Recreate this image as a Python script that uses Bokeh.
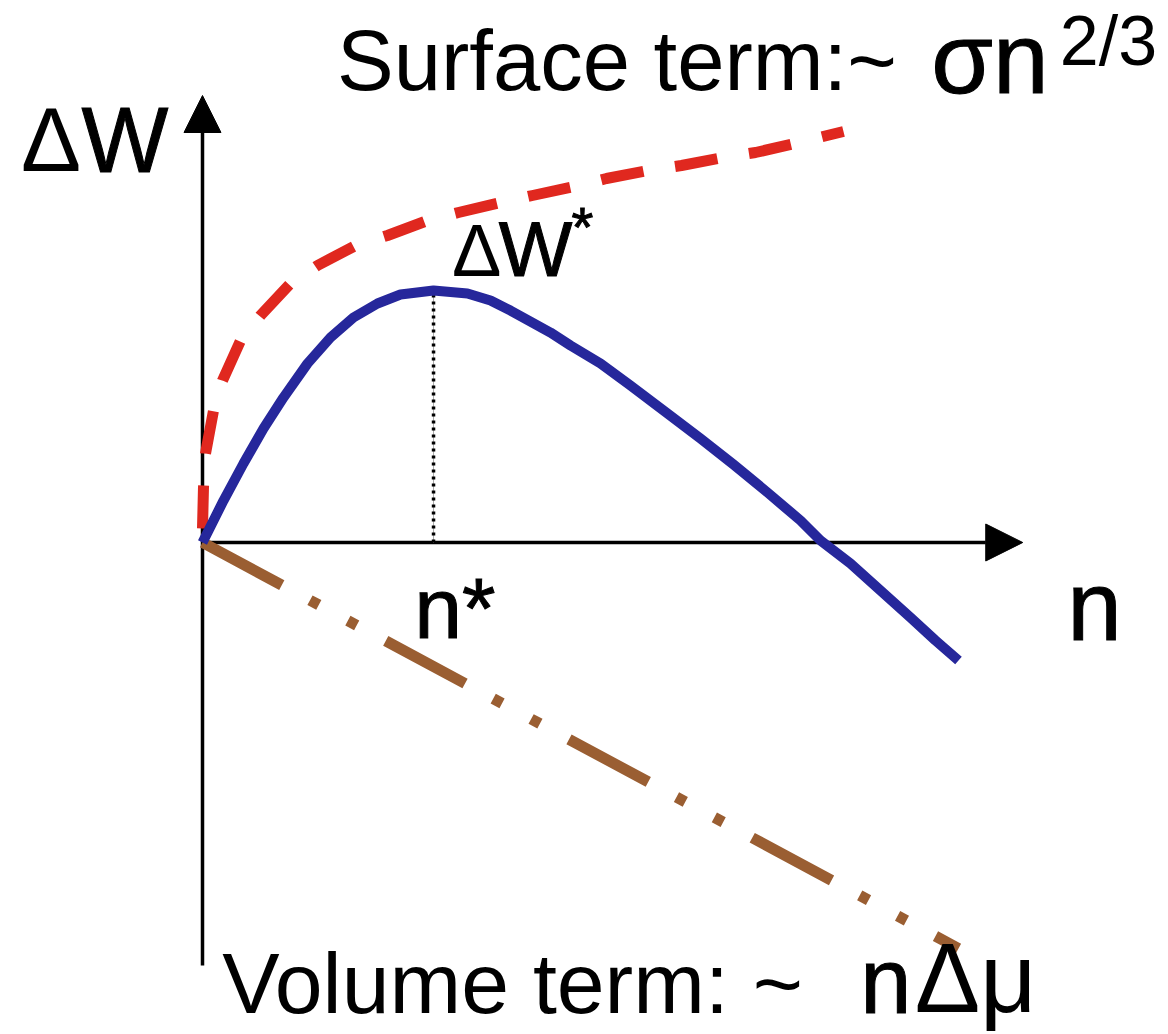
from bokeh.plotting import figure
from bokeh.models import Range1d, Arrow, NormalHead, Label
from bokeh.embed import file_html
from bokeh.resources import INLINE

# Cluster size n (arbitrary units) and free-energy terms dW (arbitrary units)
total_n = [0.0, 0.278, 0.542, 0.807, 1.071, 1.389, 1.693, 1.997, 2.315, 2.619,
           3.056, 3.505, 3.810, 4.074, 4.339, 4.603, 4.868, 5.265, 5.661, 6.151,
           6.587, 7.024, 7.474, 7.910, 8.175, 8.571, 8.968, 9.365, 9.696, 10.0]
total_w = [0.0, 1.034, 1.946, 2.808, 3.571, 4.409, 5.049, 5.542, 5.887, 6.108,
           6.207, 6.133, 5.961, 5.714, 5.443, 5.172, 4.852, 4.409, 3.867, 3.177,
           2.562, 1.921, 1.232, 0.542, 0.049, -0.517, -1.182, -1.847, -2.414, -2.906]

surface_n = [0.0, 0.013, 0.040, 0.146, 0.265, 0.503, 0.767, 1.164, 1.521, 2.024,
             2.447, 2.976, 3.386, 3.942, 4.365, 4.921, 5.344, 5.899, 6.336, 6.892,
             7.315, 7.884, 8.479]
surface_w = [0.345, 1.355, 2.192, 3.251, 3.990, 4.975, 5.591, 6.379, 6.823, 7.315,
             7.562, 7.931, 8.128, 8.374, 8.547, 8.768, 8.966, 9.163, 9.286, 9.483,
             9.606, 9.852, 10.123]

volume_n = [0.0, 10.0]
volume_w = [0.0, -10.0]

# axis extents
n_axis_end = 10.85
w_axis_top = 11.01
w_axis_bottom = -10.42

FONT = "Liberation Sans"
W_UNIT_PX = 40.6  # screen pixels per dW unit, used to shift text from baseline to bottom

p = figure(width=1168, height=1034, output_backend="svg", toolbar_location=None,
           x_axis_type=None, y_axis_type=None, min_border=0,
           x_range=Range1d(-2.672, 12.778), y_range=Range1d(-12.118, 13.350))
p.grid.visible = False
p.outline_line_color = None
p.background_fill_color = "white"
p.border_fill_color = "white"

# axes with arrow heads
for xs, ys, xe, ye in [(0, w_axis_bottom, 0, w_axis_top), (0, 0, n_axis_end, 0)]:
    p.add_layout(Arrow(end=NormalHead(size=37, fill_color="black", line_color="black", line_width=1),
                       x_start=xs, y_start=ys, x_end=xe, y_end=ye,
                       line_color="black", line_width=3.5, level="underlay"))

# critical size marker
i_star = max(range(len(total_w)), key=lambda i: total_w[i])
n_star, w_star = total_n[i_star], total_w[i_star]
p.line([n_star, n_star], [0, w_star], line_color="#aaaaaa", line_width=1)
p.line([n_star, n_star], [0, w_star], line_color="black", line_width=3.5, line_dash="3 4")

# volume term (dash-dot-dot)
p.line(volume_n, volume_w, line_color="#9A5E32", line_width=11,
       line_dash="90 32 10 33 10 33")
# surface term (dashed)
p.line(surface_n, surface_w, line_color="#E0281F", line_width=11, line_dash="43 32",
       line_join="round")
# total free energy
p.line(total_n, total_w, line_color="#26279B", line_width=10, line_join="round")


def label(x, y, text, size, heavy=False):
    # y is the text baseline; the label is anchored at its bottom edge.
    # Heavy labels get a black outline to thicken the strokes.
    kw = dict(text_outline_color="black") if heavy else {}
    p.add_layout(Label(x=x, y=y - 0.21 * size / W_UNIT_PX, text=text, text_font=FONT,
                       text_font_size=f"{size}px", text_font_style="normal",
                       text_color="black", text_align="left",
                       text_baseline="bottom", **kw))


# plain captions
label(-2.40, 9.14, "Δ", 90)
label(1.78, 11.13, "Surface term:~", 85)
label(11.34, 11.75, "2/3", 70)
label(0.26, -11.58, "Volume term: ~", 86)
label(9.42, -11.58, "Δμ", 98)
label(3.30, 6.55, "Δ", 74)

# heavy symbols
label(-1.60, 9.14, "W", 92, heavy=True)
label(11.44, -2.41, "n", 98, heavy=True)
label(9.64, 11.08, "σn", 100, heavy=True)
label(8.70, -11.58, "n", 92, heavy=True)
label(3.92, 6.55, "W", 78, heavy=True)
label(4.88, 7.30, "*", 56, heavy=True)
label(2.80, -2.34, "n*", 86, heavy=True)

open("out.html", "w").write(file_html(p, INLINE))
